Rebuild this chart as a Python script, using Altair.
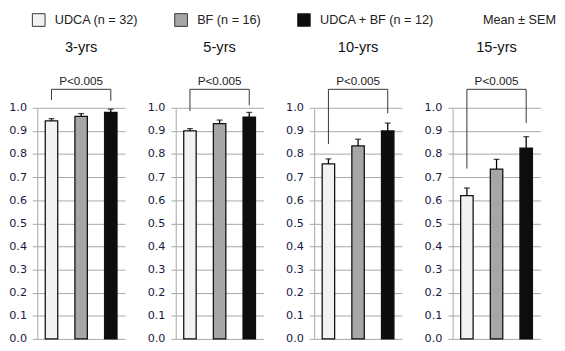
import altair as alt
import pandas as pd

periods = ["3-yrs", "5-yrs", "10-yrs", "15-yrs"]
groups = ["UDCA (n = 32)", "BF (n = 16)", "UDCA + BF (n = 12)"]
means = {
    "3-yrs": [0.943, 0.963, 0.980],
    "5-yrs": [0.900, 0.932, 0.960],
    "10-yrs": [0.757, 0.835, 0.900],
    "15-yrs": [0.620, 0.735, 0.825],
}
sems = {
    "3-yrs": [0.010, 0.012, 0.014],
    "5-yrs": [0.010, 0.015, 0.020],
    "10-yrs": [0.022, 0.029, 0.034],
    "15-yrs": [0.033, 0.042, 0.050],
}
# bracket leg bottoms: (left leg, right leg)
brackets = {
    "3-yrs": [1.034, 1.030],
    "5-yrs": [0.986, 1.011],
    "10-yrs": [0.843, 0.976],
    "15-yrs": [0.737, 0.934],
}
bracket_top = 1.08
p_label = "P<0.005"
p_y = 1.117
colors = ["#f2f2f2", "#a6a6a6", "#0d0d0d"]
y_ticks = [0.0, 0.1, 0.2, 0.3, 0.4, 0.5, 0.6, 0.7, 0.8, 0.9, 1.0]

FONT = "Liberation Sans"
AXFONT = "DejaVu Sans"
GRID = "#a6a6a6"
LABEL = "#1a1a40"


def xscale():
    return alt.Scale(domain=groups, paddingInner=0.58, paddingOuter=0.27)


def panel(period):
    df = pd.DataFrame({
        "group": groups,
        "mean": means[period],
        "hi": [m + s for m, s in zip(means[period], sems[period])],
    })
    xenc = alt.X("group:N", axis=None, scale=xscale())
    yscale = alt.Scale(domain=[0, 1])
    yaxis = alt.Axis(values=y_ticks, format=".1f", labelOverlap=False,
                     grid=True, gridColor=GRID, domainColor=GRID,
                     tickColor=GRID, tickSize=5, labelPadding=6,
                     labelFont=AXFONT, labelFontSize=11.5, labelColor=LABEL,
                     title=None)

    def yenc(field):
        return alt.Y(field, scale=yscale, axis=yaxis)

    bars = alt.Chart(df).mark_bar(stroke="#111111", strokeWidth=1.3).encode(
        x=xenc,
        y=yenc("mean:Q"),
        fill=alt.Fill("group:N",
                      scale=alt.Scale(domain=groups, range=colors),
                      legend=alt.Legend(
                          orient="none", legendX=-6, legendY=-98,
                          direction="horizontal", title="Mean ± SEM",
                          titleOrient="right", titleFont=FONT,
                          titleFontSize=13, titleFontWeight="normal",
                          titleColor="#222222", titlePadding=50,
                          titleBaseline="middle",
                          labelFont=FONT, labelFontSize=13,
                          labelColor="#222222", labelOffset=9,
                          columnPadding=34, symbolType="square",
                          symbolSize=170, symbolStrokeColor="#333333",
                          symbolStrokeWidth=1)),
    )
    err = alt.Chart(df).mark_rule(color="#000000", strokeWidth=1.3).encode(
        x=xenc, y=yenc("mean:Q"), y2="hi:Q")
    cap = alt.Chart(df).mark_tick(color="#000000", thickness=1.3, size=6,
                                  orient="horizontal").encode(
        x=xenc, y=yenc("hi:Q"))
    bdf = pd.DataFrame({
        "group": [groups[0], groups[2]],
        "bottom": brackets[period],
        "top": [bracket_top, bracket_top],
    })
    legs = alt.Chart(bdf).mark_rule(color="#333333", strokeWidth=1).encode(
        x=xenc, y=yenc("bottom:Q"), y2="top:Q")
    hdf = pd.DataFrame({"group": [groups[0]], "b": [groups[2]],
                        "top": [bracket_top]})
    horiz = alt.Chart(hdf).mark_rule(color="#333333", strokeWidth=1).encode(
        x=xenc, x2="b:N", y=yenc("top:Q"))
    tdf = pd.DataFrame({"group": [groups[1]], "y": [p_y], "t": [p_label]})
    ptext = alt.Chart(tdf).mark_text(font=FONT, fontSize=12,
                                     color="#222222").encode(
        x=xenc, y=yenc("y:Q"), text="t:N")
    return alt.layer(bars, err, cap, legs, horiz, ptext).properties(
        width=90, height=237,
        title=alt.TitleParams(period, font=FONT, fontSize=15,
                              fontWeight="normal", color="#111111",
                              frame="group", anchor="middle", offset=20),
    )


chart = alt.hconcat(*[panel(p) for p in periods],
                    spacing=22).properties(
    padding={"left": 0, "right": 0, "top": 0, "bottom": 0}
).configure_view(stroke=None).resolve_scale(x="independent")

chart.save("out.html", embed_options={"renderer": "svg", "actions": False})
